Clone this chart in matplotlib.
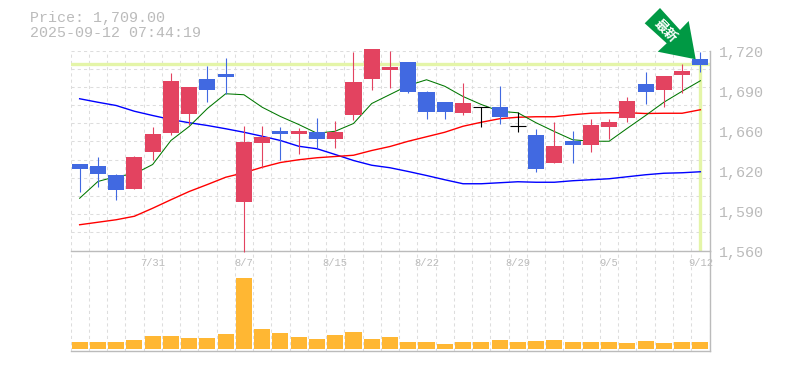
# Stock candlestick chart with moving averages and volume
import matplotlib
matplotlib.use("Agg")
import matplotlib.pyplot as plt
from matplotlib.patches import Polygon
import numpy as np

# candle data, left to right
opens = [1629.6, 1627.2, 1620, 1609.6, 1639.2, 1654.4, 1669.6, 1697.6, 1701.6, 1599.2, 1646.4, 1655.2,
         1653.6, 1654.4, 1649.6, 1668.8, 1697.6, 1704.8, 1711.2, 1686.4, 1678.4, 1670.4, 1675.2, 1675.2,
         1659.8, 1652, 1630.4, 1647.2, 1644.8, 1659.2, 1666.4, 1693.6, 1688.8, 1700.8, 1713.6]
closes = [1625.6, 1621.6, 1608.8, 1634.4, 1653.6, 1696, 1690.4, 1688.8, 1699.2, 1647.2, 1651.2, 1653.6,
          1655.2, 1649.6, 1654.4, 1694.4, 1721.6, 1706.4, 1687.2, 1671.2, 1671.2, 1678.4, 1675.2, 1667.2,
          1659.8, 1625.6, 1644, 1644.8, 1660, 1663.2, 1680, 1687.2, 1699.2, 1703.2, 1708.8]
highs = [1629.6, 1635.2, 1621.6, 1636, 1659.2, 1702.4, 1690.4, 1708, 1714.4, 1660, 1660, 1659.2,
         1658.4, 1666.4, 1664, 1719.2, 1721.6, 1720, 1711.2, 1688, 1679.2, 1694.4, 1675.2, 1692,
         1671.2, 1657.6, 1663.2, 1656, 1665.6, 1665.6, 1683.2, 1703.2, 1699.2, 1709.6, 1719.2]
lows = [1607.2, 1611.2, 1600.8, 1609.6, 1632.8, 1652.8, 1660.8, 1679.2, 1685.6, 1559.2, 1626.4, 1632.8,
        1637.6, 1642.4, 1642.4, 1664.8, 1688.8, 1690.4, 1686.4, 1665.6, 1665.6, 1668.8, 1659.2, 1661.6,
        1655.2, 1623.2, 1630.4, 1630.4, 1639.2, 1649.6, 1663.2, 1677.6, 1675.2, 1686.4, 1702.8]

# moving averages
ma_short = [1601.8, 1615.2, 1619.2, 1621.3, 1628.8, 1648, 1659.2, 1673.6, 1685.4, 1684.6, 1674.6, 1667.2,
            1660.8, 1653.8, 1655.4, 1661.6, 1677.6, 1684.8, 1692, 1696.6, 1691.4, 1683.2, 1676.8, 1671.4,
            1670.2, 1662.2, 1655.2, 1648.6, 1647.4, 1647.4, 1657.8, 1668, 1678.6, 1687.4, 1695.8]
ma_mid = [1580.6, 1582.6, 1584.6, 1587.4, 1593.8, 1600.6, 1607.2, 1612.8, 1618.6, 1622.2, 1626.6, 1630.4,
          1632.6, 1634.2, 1635.2, 1636.2, 1640, 1643.2, 1647.4, 1651, 1654.6, 1659.4, 1662.6, 1665.4,
          1666.6, 1667, 1667, 1668.6, 1669.8, 1670.2, 1670.2, 1669.6, 1669.8, 1669.8, 1672.6]
ma_long = [1681.4, 1678.6, 1676, 1671.4, 1668, 1664.8, 1662.2, 1660, 1657.4, 1654.6, 1651.4, 1648,
           1643.4, 1641.4, 1636.8, 1632, 1628.2, 1626.2, 1623.2, 1620, 1616.6, 1613.4, 1613.4, 1614.2,
           1615, 1614.6, 1614.6, 1615.8, 1616.6, 1617.4, 1619, 1620.6, 1621.8, 1622.2, 1623]

volumes = [7, 7, 7, 9, 13, 13, 11, 11, 15, 71, 20, 16, 12, 10, 14, 17, 10, 12,
           7, 7, 5, 7, 7, 9, 7, 8, 9, 7, 7, 7, 6, 8, 6, 7, 7]

x_labels = ["7/31", "8/7", "8/15", "8/22", "8/29", "9/5", "9/12"]
x_label_pos = [4, 9, 14, 19, 24, 29, 34]
y_ticks = [1720, 1688, 1656, 1624, 1592, 1560]
y_labels = ["1,720", "1,690", "1,660", "1,620", "1,590", "1,560"]

last_price = 1709
price_text = "Price: 1,709.00"
time_text = "2025-09-12 07:44:19"

RED = "#e34360"
BLUE = "#4169e1"
GRAY = "#bbbbbb"
GRID = "#dddddd"
HILITE = "#e4f5a8"
FONT = ["Liberation Mono", "DejaVu Sans Mono"]
W, H = 785, 370

plt.rcParams["font.family"] = FONT
fig = plt.figure(figsize=(W / 100, H / 100), dpi=100)


def make_axes(left, top, right, bottom):
    return fig.add_axes([left / W, 1 - bottom / H, (right - left) / W, (bottom - top) / H])


ax = make_axes(70.5, 50.5, 709.5, 250.5)
ax_vol = make_axes(70.5, 250.5, 709.5, 350.5)
n = len(opens)
cell_edges = np.arange(n + 1) - 0.5

for a in (ax, ax_vol):
    a.set_xlim(-0.5, n - 0.5)
    a.patch.set_alpha(0)
    a.tick_params(length=0)
    a.set_xticks(cell_edges)
    a.set_xticklabels([])
    a.grid(True, axis="x", color=GRID, lw=0.75, ls=(0, (3, 3)))
    a.set_axisbelow(True)
    for side in a.spines:
        a.spines[side].set_visible(False)
    a.spines["right"].set_visible(True)
    a.spines["right"].set_color(GRAY)
    a.spines["right"].set_linewidth(1.0)
    a.spines["bottom"].set_visible(True)
    a.spines["bottom"].set_color(GRAY)
    a.spines["bottom"].set_linewidth(1.0)

# price panel
ax.set_ylim(1560, 1720)
h_grid = np.linspace(1560, 1720, 12)
ax.set_yticks(h_grid)
ax.set_yticklabels([])
ax.grid(True, axis="y", color=GRID, lw=0.75, ls=(0, (3, 3)))

ax.axhline(last_price, color=HILITE, lw=2.4, zorder=1.5)
ax.plot([n - 1, n - 1], [1561, last_price], color=HILITE, lw=2.4, zorder=1.5)

xs = np.arange(n)
ax.plot(xs, ma_long, color="#0000ff", lw=1.0, zorder=2)
ax.plot(xs, ma_mid, color="#ff0000", lw=1.0, zorder=2)
ax.plot(xs, ma_short, color="#007700", lw=0.75, zorder=2)

for i in range(n):
    if closes[i] > opens[i]:
        c = RED
    elif closes[i] < opens[i]:
        c = BLUE
    else:
        c = "black"
    ax.plot([i, i], [lows[i], highs[i]], color=c, lw=0.8, zorder=3, clip_on=False, solid_capstyle="butt")
    height = abs(closes[i] - opens[i])
    if height == 0:
        ax.plot([i - 0.44, i + 0.44], [opens[i], opens[i]], color=c, lw=0.8, zorder=3, solid_capstyle="butt")
    else:
        ax.bar(i, height, bottom=min(opens[i], closes[i]), width=0.88, color=c, zorder=3, clip_on=False)

for t, lab in zip(y_ticks, y_labels):
    ax.annotate(lab, (1, t), xycoords=("axes fraction", "data"), xytext=(9, -2), textcoords="offset pixels",
                color=GRAY, fontsize=10.8, ha="left", va="center", annotation_clip=False)

# volume panel
ax_vol.set_ylim(-2, 98)
ax_vol.set_yticks([])
ax_vol.bar(xs, volumes, width=0.88, color="#ffb733", zorder=3)
for pos, lab in zip(x_label_pos, x_labels):
    ax_vol.annotate(lab, (pos, 1), xycoords=("data", "axes fraction"), xytext=(0, -12), textcoords="offset pixels",
                    color=GRAY, fontsize=7.5, ha="center", va="center", annotation_clip=False)

# header text
fig.text(30 / W, 1 - 18 / H, price_text, color=GRAY, fontsize=10.8, ha="left", va="center")
fig.text(30 / W, 1 - 33 / H, time_text, color=GRAY, fontsize=10.8, ha="left", va="center")

# green arrow marker, in figure pixels
overlay = fig.add_axes([0, 0, 1, 1], zorder=5)
overlay.set_xlim(0, W)
overlay.set_ylim(H, 0)
overlay.axis("off")
arrow = [(660, 8), (644.7, 23.3), (666.7, 43.3), (657.7, 51.7), (695.7, 59.3), (688.7, 21), (680, 30)]
overlay.add_patch(Polygon(arrow, closed=True, color="#009944", lw=0))
overlay.text(665.5, 30.5, "最新", color="white", fontsize=9.5, fontweight="bold", rotation=-45,
             ha="center", va="center", family=["Noto Sans CJK JP", "DejaVu Sans"])

fig.savefig("out.png", dpi=100)
